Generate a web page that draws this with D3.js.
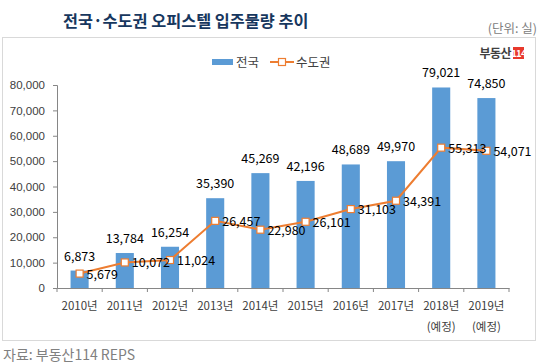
<!DOCTYPE html>
<html><head><meta charset="utf-8">
<script src="https://cdn.jsdelivr.net/npm/d3@7"></script>
<style>body{margin:0;background:#fff;}svg{display:block;font-family:"Noto Sans CJK KR","Noto Sans",sans-serif;}</style>
</head><body>
<svg id="c" width="540" height="364"></svg>
<script>
const years = ["2010년","2011년","2012년","2013년","2014년","2015년","2016년","2017년","2018년","2019년"];
const subLabels = ["","","","","","","","","(예정)","(예정)"];
const national = [6873,13784,16254,35390,45269,42196,48689,49970,79021,74850];
const capital = [5679,10072,11024,26457,22980,26101,31103,34391,55313,54071];
const yTicks = [0,10000,20000,30000,40000,50000,60000,70000,80000];

const svg = d3.select("#c");
const fmt = d3.format(",");

// frame
svg.append("rect").attr("x",2.5).attr("y",37.5).attr("width",533).attr("height",303)
  .attr("fill","#fff").attr("stroke","#d9d9d9");

// title
svg.append("text").attr("x",63).attr("y",27).attr("font-size",16.3).attr("font-weight","bold")
  .attr("fill","#17375e").text("전국·수도권 오피스텔 입주물량 추이");
svg.append("text").attr("x",537).attr("y",33).attr("text-anchor","end").attr("font-size",12.5)
  .attr("fill","#808080").text("(단위: 실)");

// logo
svg.append("text").attr("x",511).attr("y",58).attr("text-anchor","end").attr("font-size",12)
  .attr("font-weight","bold").attr("fill","#404040").attr("letter-spacing",-0.5).text("부동산");
svg.append("rect").attr("x",513).attr("y",47).attr("width",11).attr("height",12).attr("fill","#e8392c");
svg.append("text").attr("x",518.5).attr("y",57).attr("text-anchor","middle").attr("font-size",9.5)
  .attr("font-weight","bold").attr("fill","#fff").attr("letter-spacing",-0.8).text("114");

const x = d3.scaleBand().domain(years).range([57,509]).paddingInner(0.6).paddingOuter(0.3);
const xOuter = d3.scaleBand().domain(years).range([57,509]);
const y = d3.scaleLinear().domain([0,80000]).range([288,85]);

// y axis
const yAxis = d3.axisLeft(y).tickValues(yTicks).tickFormat(fmt).tickSize(4).tickPadding(8);
const gy = svg.append("g").attr("transform","translate(57,0)").call(yAxis);
gy.select(".domain").attr("stroke","#868686");
gy.selectAll(".tick line").attr("stroke","#868686");
gy.selectAll("text").attr("font-size",11.5).attr("fill","#404040");

// bars
svg.append("g").selectAll("rect").data(national).join("rect")
  .attr("x",(d,i)=>x(years[i])).attr("width",x.bandwidth())
  .attr("y",d=>y(d)).attr("height",d=>y(0)-y(d)).attr("fill","#5b9bd5");

// x axis
const xAxis = d3.axisBottom(xOuter).tickSize(0).tickFormat("");
const gx = svg.append("g").attr("transform","translate(0,288)").call(xAxis);
gx.select(".domain").attr("stroke","#868686");
gx.selectAll(".tick").remove();
const bounds = years.map((d,i)=>xOuter(d)).concat([509]);
gx.selectAll("line.sep").data(bounds).join("line").attr("class","sep")
  .attr("x1",d=>d).attr("x2",d=>d).attr("y1",0).attr("y2",4).attr("stroke","#868686");
svg.append("g").selectAll("text").data(years).join("text")
  .attr("x",d=>xOuter(d)+xOuter.bandwidth()/2).attr("y",310).attr("text-anchor","middle")
  .attr("font-size",11.5).attr("fill","#404040").text(d=>d);
svg.append("g").selectAll("text").data(subLabels).join("text")
  .attr("x",(d,i)=>xOuter(years[i])+xOuter.bandwidth()/2).attr("y",331).attr("text-anchor","middle")
  .attr("font-size",11.5).attr("fill","#404040").text(d=>d);

// bar labels
svg.append("g").selectAll("text").data(national).join("text")
  .attr("x",(d,i)=>x(years[i])+x.bandwidth()/2).attr("y",d=>y(d)-10).attr("text-anchor","middle")
  .attr("font-size",12.5).attr("fill","#000").text(d=>fmt(d));

// line
const cx = i=>xOuter(years[i])+xOuter.bandwidth()/2;
const line = d3.line().x((d,i)=>cx(i)).y(d=>y(d));
svg.append("path").datum(capital).attr("d",line).attr("fill","none")
  .attr("stroke","#ed7d31").attr("stroke-width",2);
svg.append("g").selectAll("rect").data(capital).join("rect")
  .attr("x",(d,i)=>cx(i)-3.5).attr("y",d=>y(d)-3.5).attr("width",7).attr("height",7)
  .attr("fill","#fff").attr("stroke","#ed7d31").attr("stroke-width",1.2);
svg.append("g").selectAll("text").data(capital).join("text")
  .attr("x",(d,i)=>cx(i)+7).attr("y",d=>y(d)+5).attr("font-size",12.5).attr("fill","#000")
  .text(d=>fmt(d));

// legend
svg.append("rect").attr("x",212).attr("y",59).attr("width",21).attr("height",6).attr("fill","#5b9bd5");
svg.append("text").attr("x",236).attr("y",67).attr("font-size",12.5).attr("fill","#404040").text("전국");
svg.append("line").attr("x1",270).attr("x2",294).attr("y1",62).attr("y2",62).attr("stroke","#ed7d31").attr("stroke-width",2);
svg.append("rect").attr("x",278.5).attr("y",58.5).attr("width",7).attr("height",7).attr("fill","#fff").attr("stroke","#ed7d31").attr("stroke-width",1.2);
svg.append("text").attr("x",296).attr("y",67).attr("font-size",12.5).attr("fill","#404040").text("수도권");

// source
svg.append("text").attr("x",3).attr("y",360).attr("font-size",14).attr("fill","#808080").text("자료: 부동산114 REPS");
</script>
</body></html>
